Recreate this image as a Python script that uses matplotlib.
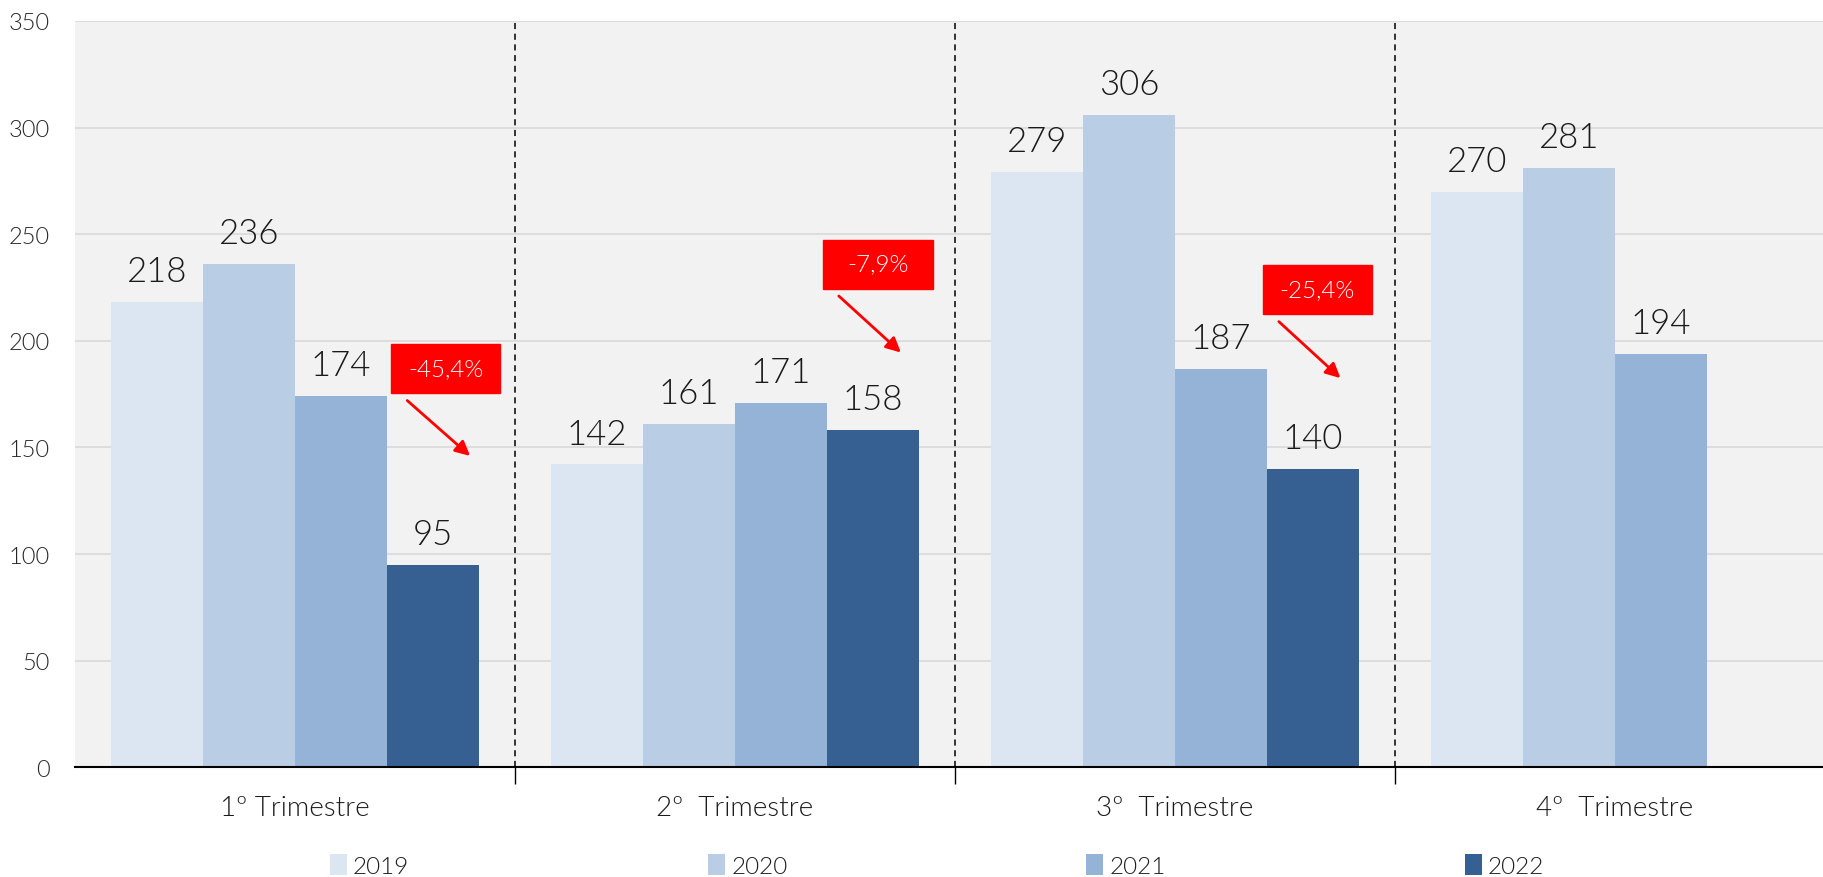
import matplotlib
matplotlib.use('Agg')
import matplotlib.pyplot as plt
import numpy as np
from matplotlib.patches import Rectangle

plt.rcParams['font.family'] = ['Lato', 'DejaVu Sans']
plt.rcParams['font.weight'] = 300

categorias = ['1º Trimestre', '2º  Trimestre', '3º  Trimestre', '4º  Trimestre']
anos = ['2019', '2020', '2021', '2022']
v2019 = [218, 142, 279, 270]
v2020 = [236, 161, 306, 281]
v2021 = [174, 171, 187, 194]
v2022 = [95, 158, 140, None]
variacoes = ['-45,4%', '-7,9%', '-25,4%']

cores = ['#DCE6F2', '#B9CDE5', '#95B3D7', '#376092']
series = [v2019, v2020, v2021, v2022]

fig = plt.figure(figsize=(18.23, 8.78), dpi=100)
ax = fig.add_axes([75 / 1823, 0.125, 1760 / 1823, 0.85])
ax.set_facecolor('#F2F2F2')

x = np.arange(len(categorias))
w = 0.209
for i, (s, c, ano) in enumerate(zip(series, cores, anos)):
    xs = [xi + (i - 1.5) * w for xi, v in zip(x, s) if v is not None]
    vs = [v for v in s if v is not None]
    ax.bar(xs, vs, width=w, color=c, label=ano, zorder=2)
    for xx, vv in zip(xs, vs):
        ax.text(xx, vv + 7, str(vv), ha='center', va='bottom', fontsize=25,
                color='#1a1a1a', zorder=4)

ax.set_xlim(-0.5, 3.5)
ax.set_ylim(0, 350)
ax.set_yticks(range(0, 351, 50))
ax.yaxis.grid(True, color='#D9D9D9', lw=1.2, zorder=0)
ax.set_axisbelow(True)
ax.tick_params(axis='y', length=0, pad=18, labelsize=17, labelcolor='#262626')

# separadores entre trimestres
for s in [0.5, 1.5, 2.5]:
    ax.axvline(s, color='black', ls=(0, (4, 3)), lw=1.1, zorder=3)
ax.set_xticks([0.5, 1.5, 2.5])
ax.set_xticklabels([])
ax.set_xticks(x, minor=True)
ax.set_xticklabels(categorias, minor=True, fontsize=20, color='#1a1a1a')
ax.tick_params(axis='x', which='major', length=12, width=1, color='black', direction='out')
ax.tick_params(axis='x', which='minor', length=0, pad=20)

for sp in ['top', 'right', 'left']:
    ax.spines[sp].set_visible(False)
ax.spines['bottom'].set_color('black')
ax.spines['bottom'].set_linewidth(1.5)

# caixas vermelhas com a variação
caixas = [(0.343, 187), (1.325, 236), (2.323, 224)]
setas = [((0.255, 172), (0.398, 146)), ((1.236, 221), (1.377, 194.5)), ((2.236, 209), (2.376, 182.5))]
bw, bh = 0.248, 23
for (cx, cy), txt, (p0, p1) in zip(caixas, variacoes, setas):
    ax.add_patch(Rectangle((cx - bw / 2, cy - bh / 2), bw, bh, color='#FF0000', zorder=5))
    ax.text(cx, cy, txt, ha='center', va='center', color='white', fontsize=17.5, zorder=6)
    ax.annotate('', xy=p1, xytext=p0,
                arrowprops=dict(arrowstyle='-|>', color='#FF0000', lw=2, mutation_scale=22,
                                shrinkA=0, shrinkB=0), zorder=6)

fig.legend(loc='center', bbox_to_anchor=(0.514, 0.013), ncol=4, frameon=False,
           fontsize=17.5, handlelength=0.7, handleheight=0.9, handletextpad=0.25,
           columnspacing=12.3, labelcolor='#1a1a1a')

fig.savefig('out.png', dpi=100)
